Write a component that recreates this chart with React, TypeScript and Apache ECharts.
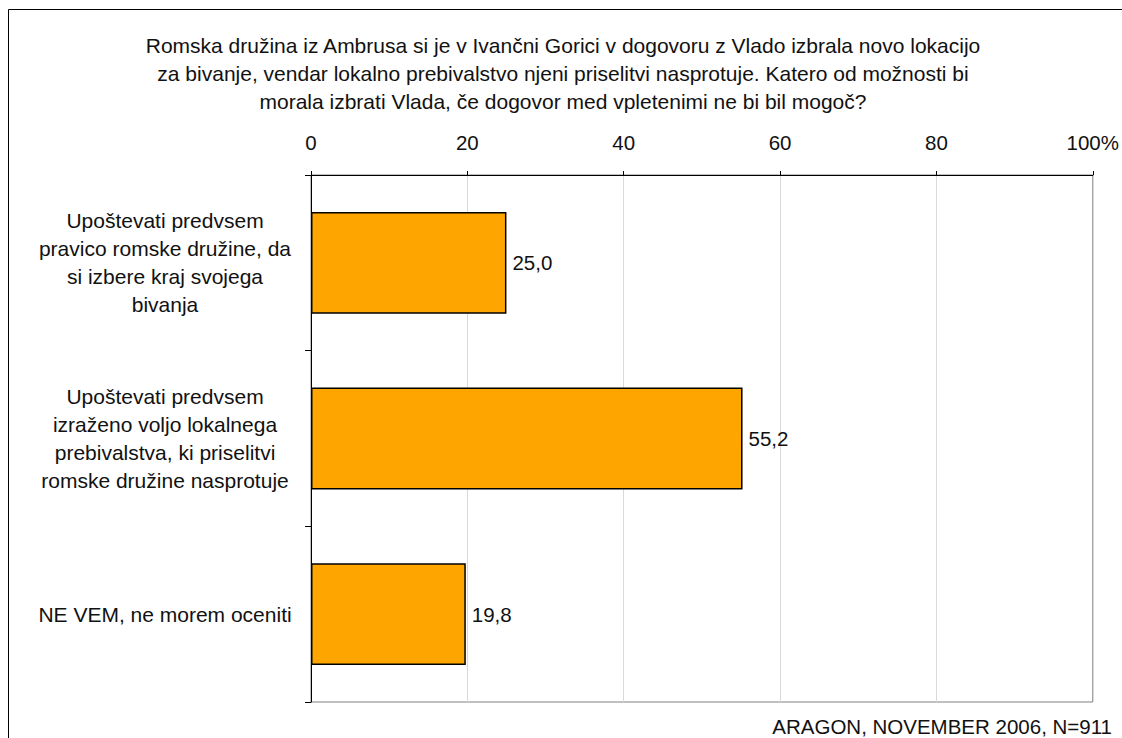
import React, { useEffect, useRef } from "react";
import * as echarts from "echarts";

const titleLines = [
  "Romska družina iz Ambrusa si je v Ivančni Gorici v dogovoru z Vlado izbrala novo lokacijo",
  "za bivanje, vendar lokalno prebivalstvo njeni priselitvi nasprotuje. Katero od možnosti bi",
  "morala izbrati Vlada, če dogovor med vpletenimi ne bi bil mogoč?",
];
const categories = [
  "Upoštevati predvsem\npravico romske družine, da\nsi izbere kraj svojega\nbivanja",
  "Upoštevati predvsem\nizraženo voljo lokalnega\nprebivalstva, ki priselitvi\nromske družine nasprotuje",
  "NE VEM, ne morem oceniti",
];
const values = [25.0, 55.2, 19.8];
const xTicks = [0, 20, 40, 60, 80, 100];
const sourceText = "ARAGON, NOVEMBER 2006, N=911";

const FONT = "'Liberation Sans', Arial, sans-serif";
const FS = 21;

export default function App() {
  const ref = useRef<HTMLDivElement>(null);
  useEffect(() => {
    if (!ref.current) return;
    const chart = echarts.init(ref.current, null, { renderer: "svg" });
    chart.setOption({
      animation: false,
      backgroundColor: "#ffffff",
      textStyle: { fontFamily: FONT },
      grid: {
        left: 311,
        right: 28,
        top: 175,
        bottom: 36,
        show: true,
        borderColor: "#808080",
        borderWidth: 1,
        containLabel: false,
      },
      xAxis: {
        type: "value",
        position: "top",
        min: 0,
        max: 100,
        interval: 20,
        axisLine: { show: true, lineStyle: { color: "#000", width: 1 } },
        axisTick: { show: true, length: 4, lineStyle: { color: "#000" } },
        axisLabel: {
          fontSize: 20.5,
          color: "#111",
          fontFamily: FONT,
          margin: 22,
          formatter: (v: number) => (v === xTicks[xTicks.length - 1] ? v + "%" : String(v)),
        },
        splitLine: { show: true, lineStyle: { color: "#d9d9d9", width: 1 } },
      },
      yAxis: {
        type: "category",
        inverse: true,
        data: categories,
        axisLine: { show: true, lineStyle: { color: "#000", width: 1 } },
        axisTick: { show: true, length: 6, lineStyle: { color: "#000" } },
        axisLabel: {
          fontSize: FS,
          color: "#111",
          fontFamily: FONT,
          align: "center",
          margin: 146,
          lineHeight: 28,
        },
      },
      series: [
        {
          type: "bar",
          data: values,
          barWidth: "58%",
          itemStyle: { color: "#FFA500", borderColor: "#000", borderWidth: 1.5 },
          label: {
            show: true,
            position: "right",
            distance: 6,
            fontSize: 20.5,
            color: "#111",
            fontFamily: FONT,
            formatter: (p: any) => Number(p.value).toFixed(1).replace(".", ","),
          },
        },
      ],
      graphic: [
        {
          type: "rect",
          shape: { x: 8.5, y: 9.5, width: 1300, height: 900 },
          style: { fill: "none", stroke: "#000", lineWidth: 1 },
          silent: true,
        },
        {
          type: "text",
          style: {
            text: titleLines.join("\n"),
            x: 563,
            y: 31,
            textAlign: "center",
            textVerticalAlign: "top",
            fontSize: FS,
            fontFamily: FONT,
            lineHeight: 28,
            fill: "#111",
          },
        },
        {
          type: "text",
          style: {
            text: sourceText,
            x: 1112,
            y: 726,
            textAlign: "right",
            textVerticalAlign: "middle",
            fontSize: 20.5,
            fontFamily: FONT,
            fill: "#111",
          },
        },
      ],
    });
    return () => chart.dispose();
  }, []);
  return (
    <div
      ref={ref}
      style={{ position: "fixed", left: 0, top: 0, width: 1122, height: 738 }}
    />
  );
}
